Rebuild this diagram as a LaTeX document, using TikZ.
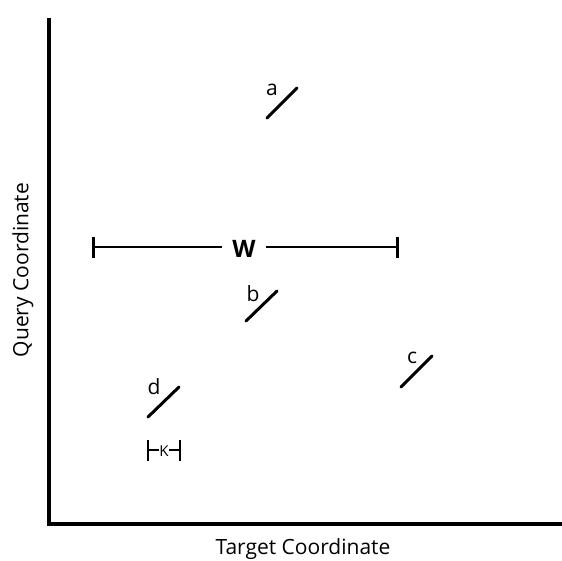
\documentclass[tikz,border=0pt]{standalone}
\usepackage{fontspec}
\setmainfont{Open Sans}
\begin{document}
\begin{tikzpicture}[x=1pt,y=-1pt,
  axisline/.style={line width=3.2pt,line cap=rect},
  seg/.style={line width=3pt,line cap=round},
  bar/.style={line width=1.5pt},
  tick/.style={line width=3pt},
  lbl/.style={font=\fontsize{21}{24}\selectfont,inner sep=0pt}]
\useasboundingbox (0,0) rectangle (562,561);
% axes
\coordinate (top) at (49,20);
\coordinate (origin) at (49,524);
\coordinate (right) at (560,524);
\draw[axisline] (top) -- (origin) -- (right);
\node[lbl,rotate=90] (ylab) at (23,270) {Query Coordinate};
\node[lbl] (xlab) at (303,549) {Target Coordinate};
% segments
\coordinate (a1) at (267,118); \coordinate (a2) at (297,88);
\draw[seg] (a1) -- (a2);
\node[lbl] (la) at (272,90) {a};
\coordinate (b1) at (246,321); \coordinate (b2) at (277,291);
\draw[seg] (b1) -- (b2);
\node[lbl] (lb) at (253,294) {b};
\coordinate (c1) at (401,387); \coordinate (c2) at (432,356);
\draw[seg] (c1) -- (c2);
\node[lbl] (lc) at (412,358) {c};
\coordinate (d1) at (148,417); \coordinate (d2) at (179,387);
\draw[seg] (d1) -- (d2);
\node[lbl] (ld) at (154,387) {d};
% W
\coordinate (wl) at (93,247); \coordinate (wr) at (397,247);
\node[font=\fontsize{24}{26}\selectfont\bfseries,inner sep=0pt] (w) at (244,249) {W};
\draw[tick] (93,237) -- (93,258);
\draw[tick] (397,237) -- (397,258);
\draw[bar] (wl) -- ([xshift=-10pt]w.west |- wl);
\draw[bar] ([xshift=10pt]w.east |- wr) -- (wr);
% K
\coordinate (kl) at (148,450); \coordinate (kr) at (180,450);
\node[font=\fontsize{15}{17}\selectfont,inner sep=0pt] (k) at (164,451) {K};
\draw[tick,line width=2.6pt] (148,440) -- (148,461);
\draw[tick,line width=2.6pt] (180,440) -- (180,461);
\draw[bar] (kl) -- (k.west |- kl);
\draw[bar] (k.east |- kr) -- (kr);
\end{tikzpicture}
\end{document}
